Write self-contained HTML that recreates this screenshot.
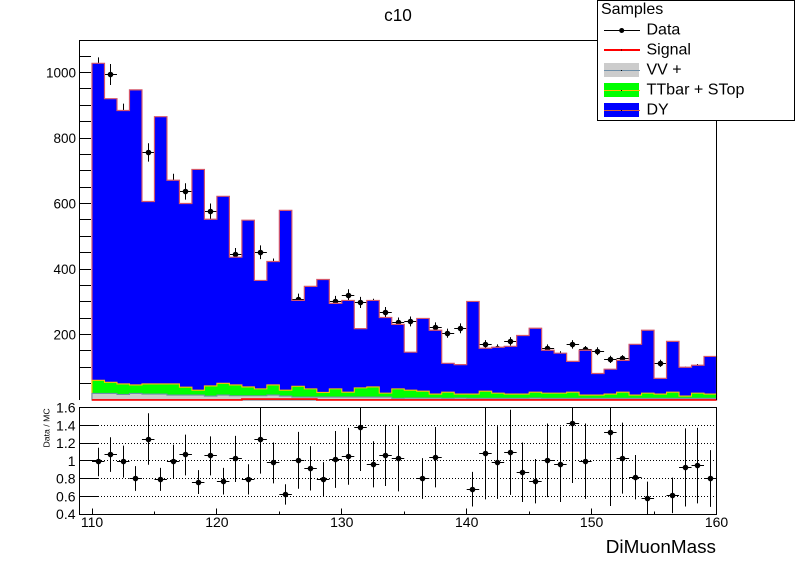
<!DOCTYPE html>
<html lang="en">
<head>
<meta charset="utf-8">
<title>c10</title>
<style>
html,body{margin:0;padding:0;background:#fff;}
svg{display:block;}
text{font-family:"Liberation Sans",sans-serif;fill:#000;}
</style>
</head>
<body>
<svg id="chart" xmlns="http://www.w3.org/2000/svg" width="796" height="572" viewBox="0 0 796 572">
  <rect x="0" y="0" width="796" height="572" fill="#fff"/>
  <text x="398" y="21" font-size="17.2" text-anchor="middle">c10</text>
  <defs>
    <clipPath id="ratio-clip"><rect x="80" y="407.5" width="637" height="107"/></clipPath>
  </defs>
  <g id="main-axes"></g>
  <g id="data-layer"></g>
  <g id="stack-layer"></g>
  <path d="M79.5 400V40.5H716.5V400" fill="none" stroke="#000" stroke-width="1"/>
  <g id="ratio-axes"></g>
  <g id="ratio-layer" clip-path="url(#ratio-clip)"></g>
  <rect x="79.5" y="407.5" width="637" height="107" fill="none" stroke="#000" stroke-width="1"/>
  <text transform="translate(49.5,447.5) rotate(-90)" font-size="8.7" fill="#222">Data / MC</text>
  <text x="716" y="553" font-size="18.9" text-anchor="end">DiMuonMass</text>
  <g>
    <rect x="597.5" y="0.5" width="197" height="120" fill="#fff" stroke="#000" stroke-width="1"/>
    <text x="601" y="14" font-size="16">Samples</text>
    <g>
      <line x1="604" x2="640" y1="30.5" y2="30.5" stroke="#000" stroke-width="1"/>
      <circle cx="621.7" cy="30.5" r="2.5" fill="#000"/>
      <text x="646.5" y="34.5" font-size="16">Data</text>
    </g>
    <g>
      <line x1="604" x2="640" y1="50" y2="50" stroke="#f00" stroke-width="2"/>
      <rect x="621" y="49.5" width="1" height="1" fill="#000"/>
      <text x="646.5" y="54.5" font-size="16">Signal</text>
    </g>
    <g>
      <rect x="604" y="63" width="35" height="14" fill="#ccc"/>
      <line x1="604" x2="640" y1="70.5" y2="70.5" stroke="#6f8fa8" stroke-width="1"/>
      <rect x="621" y="70" width="1" height="1" fill="#000"/>
      <text x="646.5" y="74.5" font-size="16">VV +</text>
    </g>
    <g>
      <rect x="604" y="83" width="35" height="14" fill="#0f0"/>
      <line x1="604" x2="640" y1="90.5" y2="90.5" stroke="#ffc000" stroke-width="1"/>
      <rect x="621" y="90" width="1" height="1" fill="#000"/>
      <text x="646.5" y="94.5" font-size="16.1">TTbar + STop</text>
    </g>
    <g>
      <rect x="604" y="103" width="35" height="14" fill="#00f"/>
      <line x1="604" x2="640" y1="110.5" y2="110.5" stroke="#e0603a" stroke-width="1"/>
      <rect x="621" y="110" width="1" height="1" fill="#000"/>
      <text x="646.5" y="114.5" font-size="16">DY</text>
    </g>
  </g>
</svg>
<script>
var binLowEdges = [110,111,112,113,114,115,116,117,118,119,120,121,122,123,124,125,126,127,128,129,130,131,132,133,134,135,136,137,138,139,140,141,142,143,144,145,146,147,148,149,150,151,152,153,154,155,156,157,158,159];
var signalYields = [0,0,0,0,0,0,0,0,0,0,0,0,3,3,3,3,3,3,0,0,0,0,0,0,0,0,0,0,0,0,0,0,0,0,0,0,0,0,0,0,0,0,0,0,0,0,0,0,0,0];
var vvYields = [20,20,17,20,18,18,15,15,15,12,15,13,13,13,15,12,9,9,9,9,9,9,9,9,5,6,6,6,5,6,5,5,5,5,5,6,5,5,5,5,5,5,5,5,5,5,5,5,5,5];
var ttYields = [40,34,32,26,31,31,34,24,15,31,36,33,27,21,31,18,33,25,14,25,15,28,31,12,29,24,21,12,19,12,13,22,16,13,13,18,16,16,19,10,10,13,19,10,16,13,19,7,16,13];
var dyYields = [968,866,835,901,557,816,622,561,674,509,571,390,509,331,377,549,262,313,345,261,280,181,264,231,197,116,222,195,88,90,283,131,140,146,179,195,131,122,94,137,66,76,97,155,192,48,155,88,85,115];
var dataValues = [1014,994,875,760,756,683,665,637,535,576,479,443,434,451,412,359,307,317,291,301,320,298,292,268,237,240,199,222,204,219,205,170,157,179,171,169,157,137,170,153,149,124,126,139,122,112,109,92,100,106];
var dataErrors = [32,32,30,28,28,26,26,25,23,24,22,21,21,21,20,19,18,18,17,17,18,17,17,16,15,15,14,15,14,15,14,13,13,13,13,13,13,12,13,12,12,11,11,12,11,11,10,10,10,10];
var ratioValues = [0.986,1.07,0.99,0.80,1.245,0.79,0.99,1.065,0.76,1.055,0.77,1.02,0.79,1.235,0.975,0.62,1.005,0.915,0.79,1.015,1.05,1.375,0.96,1.06,1.025,null,0.80,1.04,null,null,0.68,1.085,0.98,1.095,0.87,0.77,1.005,0.96,1.42,0.995,null,1.32,1.03,0.815,0.575,null,0.61,0.925,0.945,0.80];
var ratioErrors = [0.16,0.195,0.18,0.14,0.29,0.13,0.19,0.23,0.135,0.22,0.15,0.26,0.17,0.38,0.23,0.115,0.32,0.25,0.195,0.32,0.32,0.49,0.26,0.345,0.37,null,0.23,0.34,null,null,0.195,0.52,0.41,0.48,0.335,0.25,0.415,0.425,0.67,0.425,null,0.83,0.40,0.25,0.19,null,0.20,0.44,0.425,0.32];
var xTickLabels = [110,120,130,140,150,160];
var xMinorTicks = [115,125,135,145,155];
var yTickLabels = [200,400,600,800,1000];
var yMinorTicks = [50,100,150,200,250,300,350,400,450,500,550,600,650,700,750,800,850,900,950,1000,1050];
var ratioTickLabels = [0.4,0.6,0.8,1,1.2,1.4,1.6];
var ratioGridLines = [0.6,0.8,1,1.2,1.4];

var SVGNS = 'http://www.w3.org/2000/svg';
var BIN_WIDTH = 1;
function xPos(v){ return 92 + (v - 110) * 12.49; }
function yPos(v){ return 400 - v * 0.3275; }
function ratioY(v){ return 514 - (v - 0.4) * 88.75; }
function snap(p){ return Math.floor(p) + 0.5; }

function make(tag, parent, attrs){
  var el = document.createElementNS(SVGNS, tag);
  for (var k in attrs){ el.setAttribute(k, attrs[k]); }
  parent.appendChild(el);
  return el;
}

function stepPath(tops, closed){
  var d = 'M' + xPos(binLowEdges[0]).toFixed(2) + ' ' + yPos(0).toFixed(2);
  for (var i = 0; i < binLowEdges.length; i++){
    var x0 = xPos(binLowEdges[i]).toFixed(2);
    var x1 = xPos(binLowEdges[i] + BIN_WIDTH).toFixed(2);
    var y = yPos(tops[i]).toFixed(2);
    d += 'L' + x0 + ' ' + y + 'L' + x1 + ' ' + y;
  }
  d += 'L' + xPos(binLowEdges[binLowEdges.length - 1] + BIN_WIDTH).toFixed(2) + ' ' + yPos(0).toFixed(2);
  if (closed){ d += 'Z'; }
  return d;
}

var mainAxes = document.getElementById('main-axes');
yMinorTicks.forEach(function(v){
  var tick = make('line', mainAxes, {x1: 79.5, x2: 91, y1: snap(yPos(v)), y2: snap(yPos(v)), stroke: '#000', 'stroke-width': 1});
  
  
});
yTickLabels.forEach(function(v){
  var label = make('text', mainAxes, {x: 76, y: yPos(v) + 4.8, 'font-size': 13.5, 'text-anchor': 'end'});
  label.textContent = String(v);
  
  
});

var dataLayer = document.getElementById('data-layer');
binLowEdges.forEach(function(edge, i){
  var cx = xPos(edge + BIN_WIDTH / 2);
  var cy = yPos(dataValues[i]);
  var h = make('line', dataLayer, {x1: xPos(edge), x2: xPos(edge + BIN_WIDTH), y1: snap(cy), y2: snap(cy), stroke: '#000', 'stroke-width': 1});
  
  
  var v = make('line', dataLayer, {x1: snap(cx), x2: snap(cx), y1: yPos(dataValues[i] + dataErrors[i]), y2: yPos(dataValues[i] - dataErrors[i]), stroke: '#000', 'stroke-width': 1});
  
  
  var p = make('circle', dataLayer, {cx: snap(cx), cy: snap(cy), r: 2.8, fill: '#000'});
  
  
});

var vvTop = vvYields.slice();
var ttTop = ttYields.map(function(v, i){ return v + vvTop[i]; });
var dyTop = dyYields.map(function(v, i){ return v + ttTop[i]; });

var stackLayer = document.getElementById('stack-layer');
var dyHist = make('path', stackLayer, {d: stepPath(dyTop, true), fill: '#00f', stroke: '#d4566a', 'stroke-width': 1.2});


var ttHist = make('path', stackLayer, {d: stepPath(ttTop, true), fill: '#0f0', stroke: '#ffc000', 'stroke-width': 1.1});


var vvHist = make('path', stackLayer, {d: stepPath(vvTop, true), fill: '#ccc', stroke: '#6f8fa8', 'stroke-width': 1.1});


var baseLine = make('line', stackLayer, {x1: xPos(110), x2: xPos(160), y1: 399.5, y2: 399.5, stroke: '#d4404a', 'stroke-width': 1});


var signalHist = make('path', stackLayer, {d: stepPath(signalYields, false), fill: 'none', stroke: '#f00', 'stroke-width': 1.6});



var ratioAxes = document.getElementById('ratio-axes');
ratioGridLines.forEach(function(v){
  var grid = make('line', ratioAxes, {x1: 98, x2: 716.5, y1: snap(ratioY(v)), y2: snap(ratioY(v)), stroke: '#000', 'stroke-width': 1, 'stroke-dasharray': '1 2'});
  
  
  var tick = make('line', ratioAxes, {x1: 79.5, x2: 98, y1: snap(ratioY(v)), y2: snap(ratioY(v)), stroke: '#000', 'stroke-width': 1});
  
  
});
ratioTickLabels.forEach(function(v){
  var label = make('text', ratioAxes, {x: 75.5, y: ratioY(v) + 5, 'font-size': 14, 'text-anchor': 'end'});
  label.textContent = String(v);
  
  
});
xTickLabels.forEach(function(v){
  var tick = make('line', ratioAxes, {x1: snap(xPos(v)), x2: snap(xPos(v)), y1: 508.5, y2: 514.5, stroke: '#000', 'stroke-width': 1});
  
  
  var label = make('text', ratioAxes, {x: xPos(v), y: 527, 'font-size': 14, 'text-anchor': 'middle'});
  label.textContent = String(v);
  
  
});
xMinorTicks.forEach(function(v){
  var tick = make('line', ratioAxes, {x1: snap(xPos(v)), x2: snap(xPos(v)), y1: 511.5, y2: 514.5, stroke: '#000', 'stroke-width': 1});
  
  
});

var ratioLayer = document.getElementById('ratio-layer');
binLowEdges.forEach(function(edge, i){
  if (ratioValues[i] === null){ return; }
  var cx = xPos(edge + BIN_WIDTH / 2);
  var cy = ratioY(ratioValues[i]);
  var h = make('line', ratioLayer, {x1: xPos(edge), x2: xPos(edge + BIN_WIDTH), y1: snap(cy), y2: snap(cy), stroke: '#000', 'stroke-width': 1});
  
  
  var v = make('line', ratioLayer, {x1: snap(cx), x2: snap(cx), y1: ratioY(ratioValues[i] + ratioErrors[i]), y2: ratioY(ratioValues[i] - ratioErrors[i]), stroke: '#000', 'stroke-width': 1});
  
  
  var p = make('circle', ratioLayer, {cx: snap(cx), cy: snap(cy), r: 2.8, fill: '#000'});
  
  
});
</script>
</body>
</html>
